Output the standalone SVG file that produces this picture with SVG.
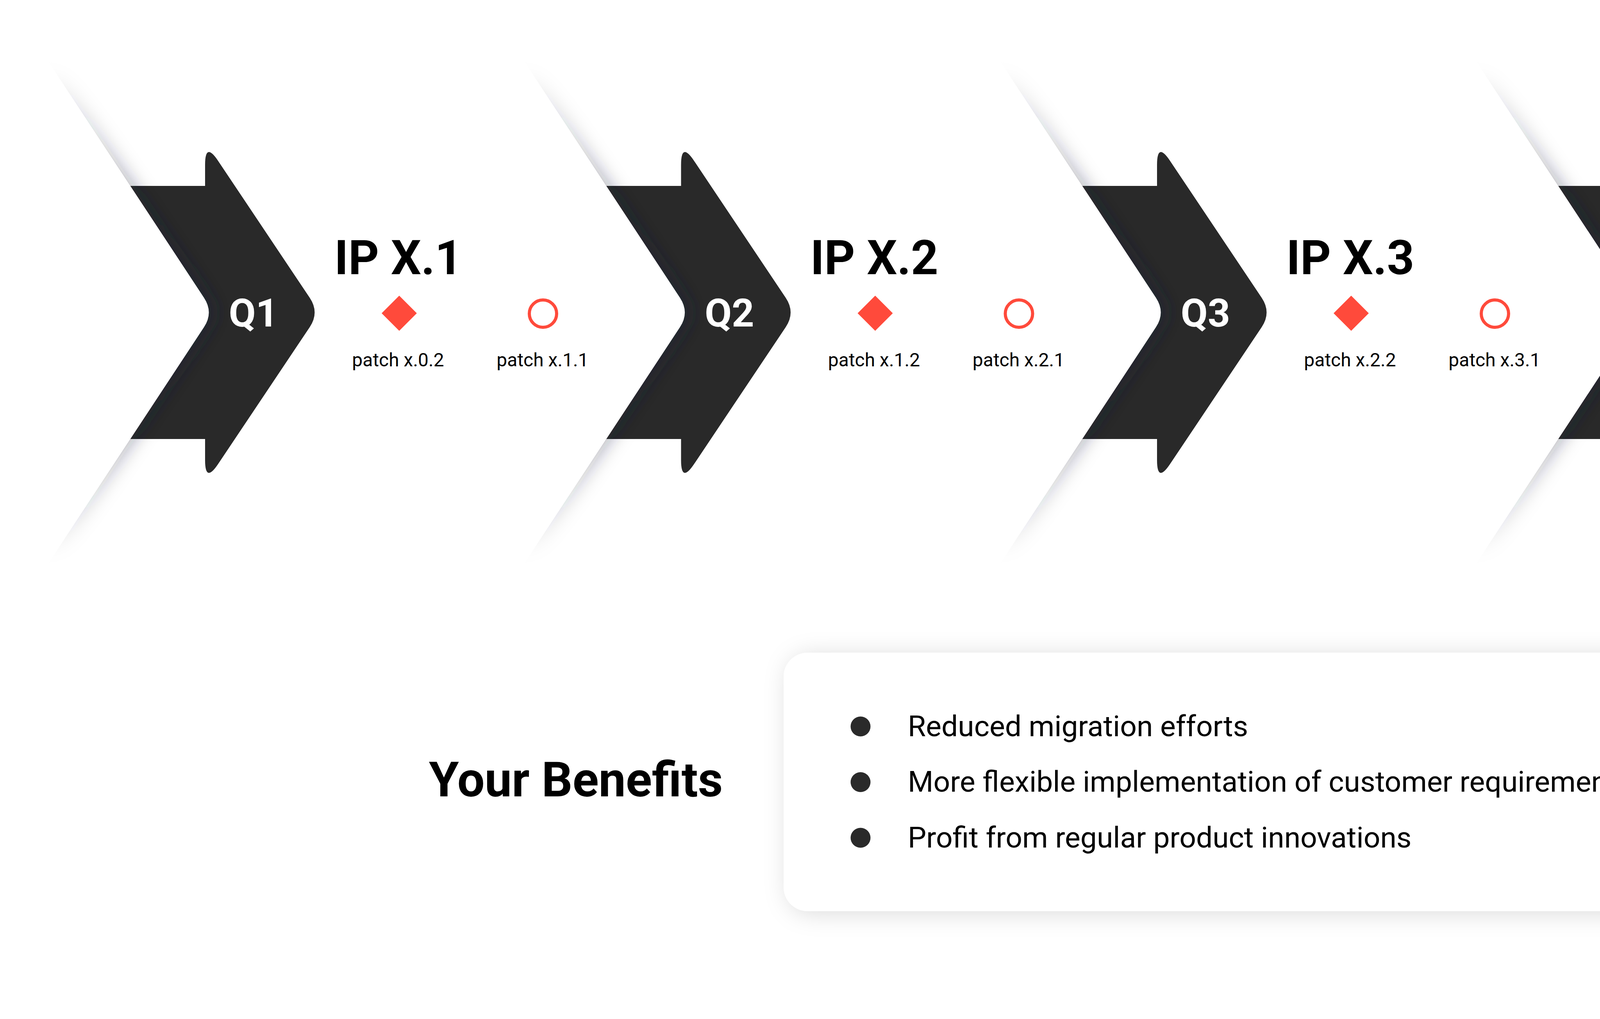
<svg xmlns="http://www.w3.org/2000/svg" xmlns:xlink="http://www.w3.org/1999/xlink" width="5628" height="2609" viewBox="0 0 5628 2609">
<style>
.q{font-family:Roboto,'Liberation Sans',sans-serif;font-weight:700;font-size:100px;fill:#ffffff;text-anchor:middle}
.ip{font-family:Roboto,'Liberation Sans',sans-serif;font-weight:700;font-size:122px;fill:#000000}
.pt{font-family:Roboto,'Liberation Sans',sans-serif;font-weight:400;font-size:48px;fill:#000000;text-anchor:middle}
.dia{fill:#ff4a3b}
.ring{fill:none;stroke:#ff4a3b;stroke-width:8}
.chev{fill:#ffffff}
.shadow{fill:url(#sg)}
.arrow{fill:#292929}
.bt{font-family:Roboto,'Liberation Sans',sans-serif;font-weight:400;font-size:75px;fill:#000000}
.bh{font-family:Roboto,'Liberation Sans',sans-serif;font-weight:700;font-size:124px;fill:#000000}
.dot{fill:#2a2a2a}
</style>
<defs>
<linearGradient id="sg" gradientUnits="userSpaceOnUse" x1="0" y1="144" x2="0" y2="1456">
<stop offset="0.03" stop-color="#1c2236" stop-opacity="0"/>
<stop offset="0.5" stop-color="#1c2236" stop-opacity="0.74"/>
<stop offset="0.97" stop-color="#1c2236" stop-opacity="0"/>
</linearGradient>
<filter id="blur" x="-10%" y="-10%" width="120%" height="120%">
<feGaussianBlur stdDeviation="24"/>
</filter>
<filter id="boxsh" x="-10%" y="-30%" width="120%" height="160%">
<feDropShadow dx="10" dy="6" stdDeviation="30" flood-color="#000000" flood-opacity="0.14"/>
</filter>
<path id="chevShape" d="M -432,144 L -24.7,762.4 Q 0,800 -24.7,837.6 L -432,1456 L -1650,1456 L -1218,800 L -1650,144 Z"/>
<path id="arrowShape" d="M -400,476 L -22,476 L -22,422 Q -22,362 11.4,411.9 L 246,762.6 Q 271,800 246,837.4 L 11.4,1188.1 Q -22,1238 -22,1178 L -22,1124 L -400,1124 Z"/>
</defs>
<rect x="0" y="0" width="5628" height="2609" fill="#ffffff"/>
<g id="timeline">
<g id="chevron-5"><use xlink:href="#chevShape" class="shadow" filter="url(#blur)" transform="translate(5429,0)"/><use xlink:href="#chevShape" class="chev" transform="translate(5421,0)"/></g>
<use id="arrow-q4" xlink:href="#arrowShape" class="arrow" transform="translate(4202.5,0)"/>
<g id="chevron-4"><use xlink:href="#chevShape" class="shadow" filter="url(#blur)" transform="translate(4210.5,0)"/><use xlink:href="#chevShape" class="chev" transform="translate(4202.5,0)"/></g>
<use id="arrow-q3" xlink:href="#arrowShape" class="arrow" transform="translate(2984,0)"/>
<g id="chevron-3"><use xlink:href="#chevShape" class="shadow" filter="url(#blur)" transform="translate(2992,0)"/><use xlink:href="#chevShape" class="chev" transform="translate(2984,0)"/></g>
<use id="arrow-q2" xlink:href="#arrowShape" class="arrow" transform="translate(1765.5,0)"/>
<g id="chevron-2"><use xlink:href="#chevShape" class="shadow" filter="url(#blur)" transform="translate(1773.5,0)"/><use xlink:href="#chevShape" class="chev" transform="translate(1765.5,0)"/></g>
<use id="arrow-q1" xlink:href="#arrowShape" class="arrow" transform="translate(547,0)"/>
<g id="chevron-1"><use xlink:href="#chevShape" class="shadow" filter="url(#blur)" transform="translate(555,0)"/><use xlink:href="#chevShape" class="chev" transform="translate(547,0)"/></g>
</g>
<g id="connectors"></g>
<g id="stage-1" transform="translate(547,0)">
<text class="q" x="102" y="836">Q1</text>
<text class="ip" x="309" y="702">IP X.1</text>
<polygon class="dia" points="475,757 520,802 475,847 430,802"/>
<circle class="ring" cx="843" cy="803" r="35"/>
<text class="pt" x="472" y="938">patch x.0.2</text>
<text class="pt" x="842" y="938">patch x.1.1</text>
</g>
<g id="stage-2" transform="translate(1765.5,0)">
<text class="q" x="102" y="836">Q2</text>
<text class="ip" x="309" y="702">IP X.2</text>
<polygon class="dia" points="475,757 520,802 475,847 430,802"/>
<circle class="ring" cx="843" cy="803" r="35"/>
<text class="pt" x="472" y="938">patch x.1.2</text>
<text class="pt" x="842" y="938">patch x.2.1</text>
</g>
<g id="stage-3" transform="translate(2984,0)">
<text class="q" x="102" y="836">Q3</text>
<text class="ip" x="309" y="702">IP X.3</text>
<polygon class="dia" points="475,757 520,802 475,847 430,802"/>
<circle class="ring" cx="843" cy="803" r="35"/>
<text class="pt" x="472" y="938">patch x.2.2</text>
<text class="pt" x="842" y="938">patch x.3.1</text>
</g>
<g id="stage-4" transform="translate(4202.5,0)">
<text class="q" x="102" y="836">Q4</text>
<text class="ip" x="309" y="702">IP X.4</text>
<polygon class="dia" points="475,757 520,802 475,847 430,802"/>
<circle class="ring" cx="843" cy="803" r="35"/>
<text class="pt" x="472" y="938">patch x.3.2</text>
<text class="pt" x="842" y="938">patch x.4.1</text>
</g>
<g id="benefits-title">
<text class="bh" x="1098" y="2039">Your Benefits</text>
</g>
<g id="benefits-box">
<rect x="2006" y="1671" width="2391" height="662" rx="62" ry="62" fill="#ffffff" filter="url(#boxsh)"/>
<circle class="dot" cx="2203" cy="1860" r="25.5"/>
<circle class="dot" cx="2203" cy="2002.5" r="25.5"/>
<circle class="dot" cx="2203" cy="2145" r="25.5"/>
<text class="bt" x="2324" y="1885">Reduced migration efforts</text>
<text class="bt" x="2324" y="2027">More flexible implementation of customer requirements</text>
<text class="bt" x="2324" y="2170">Profit from regular product innovations</text>
</g>
</svg>
